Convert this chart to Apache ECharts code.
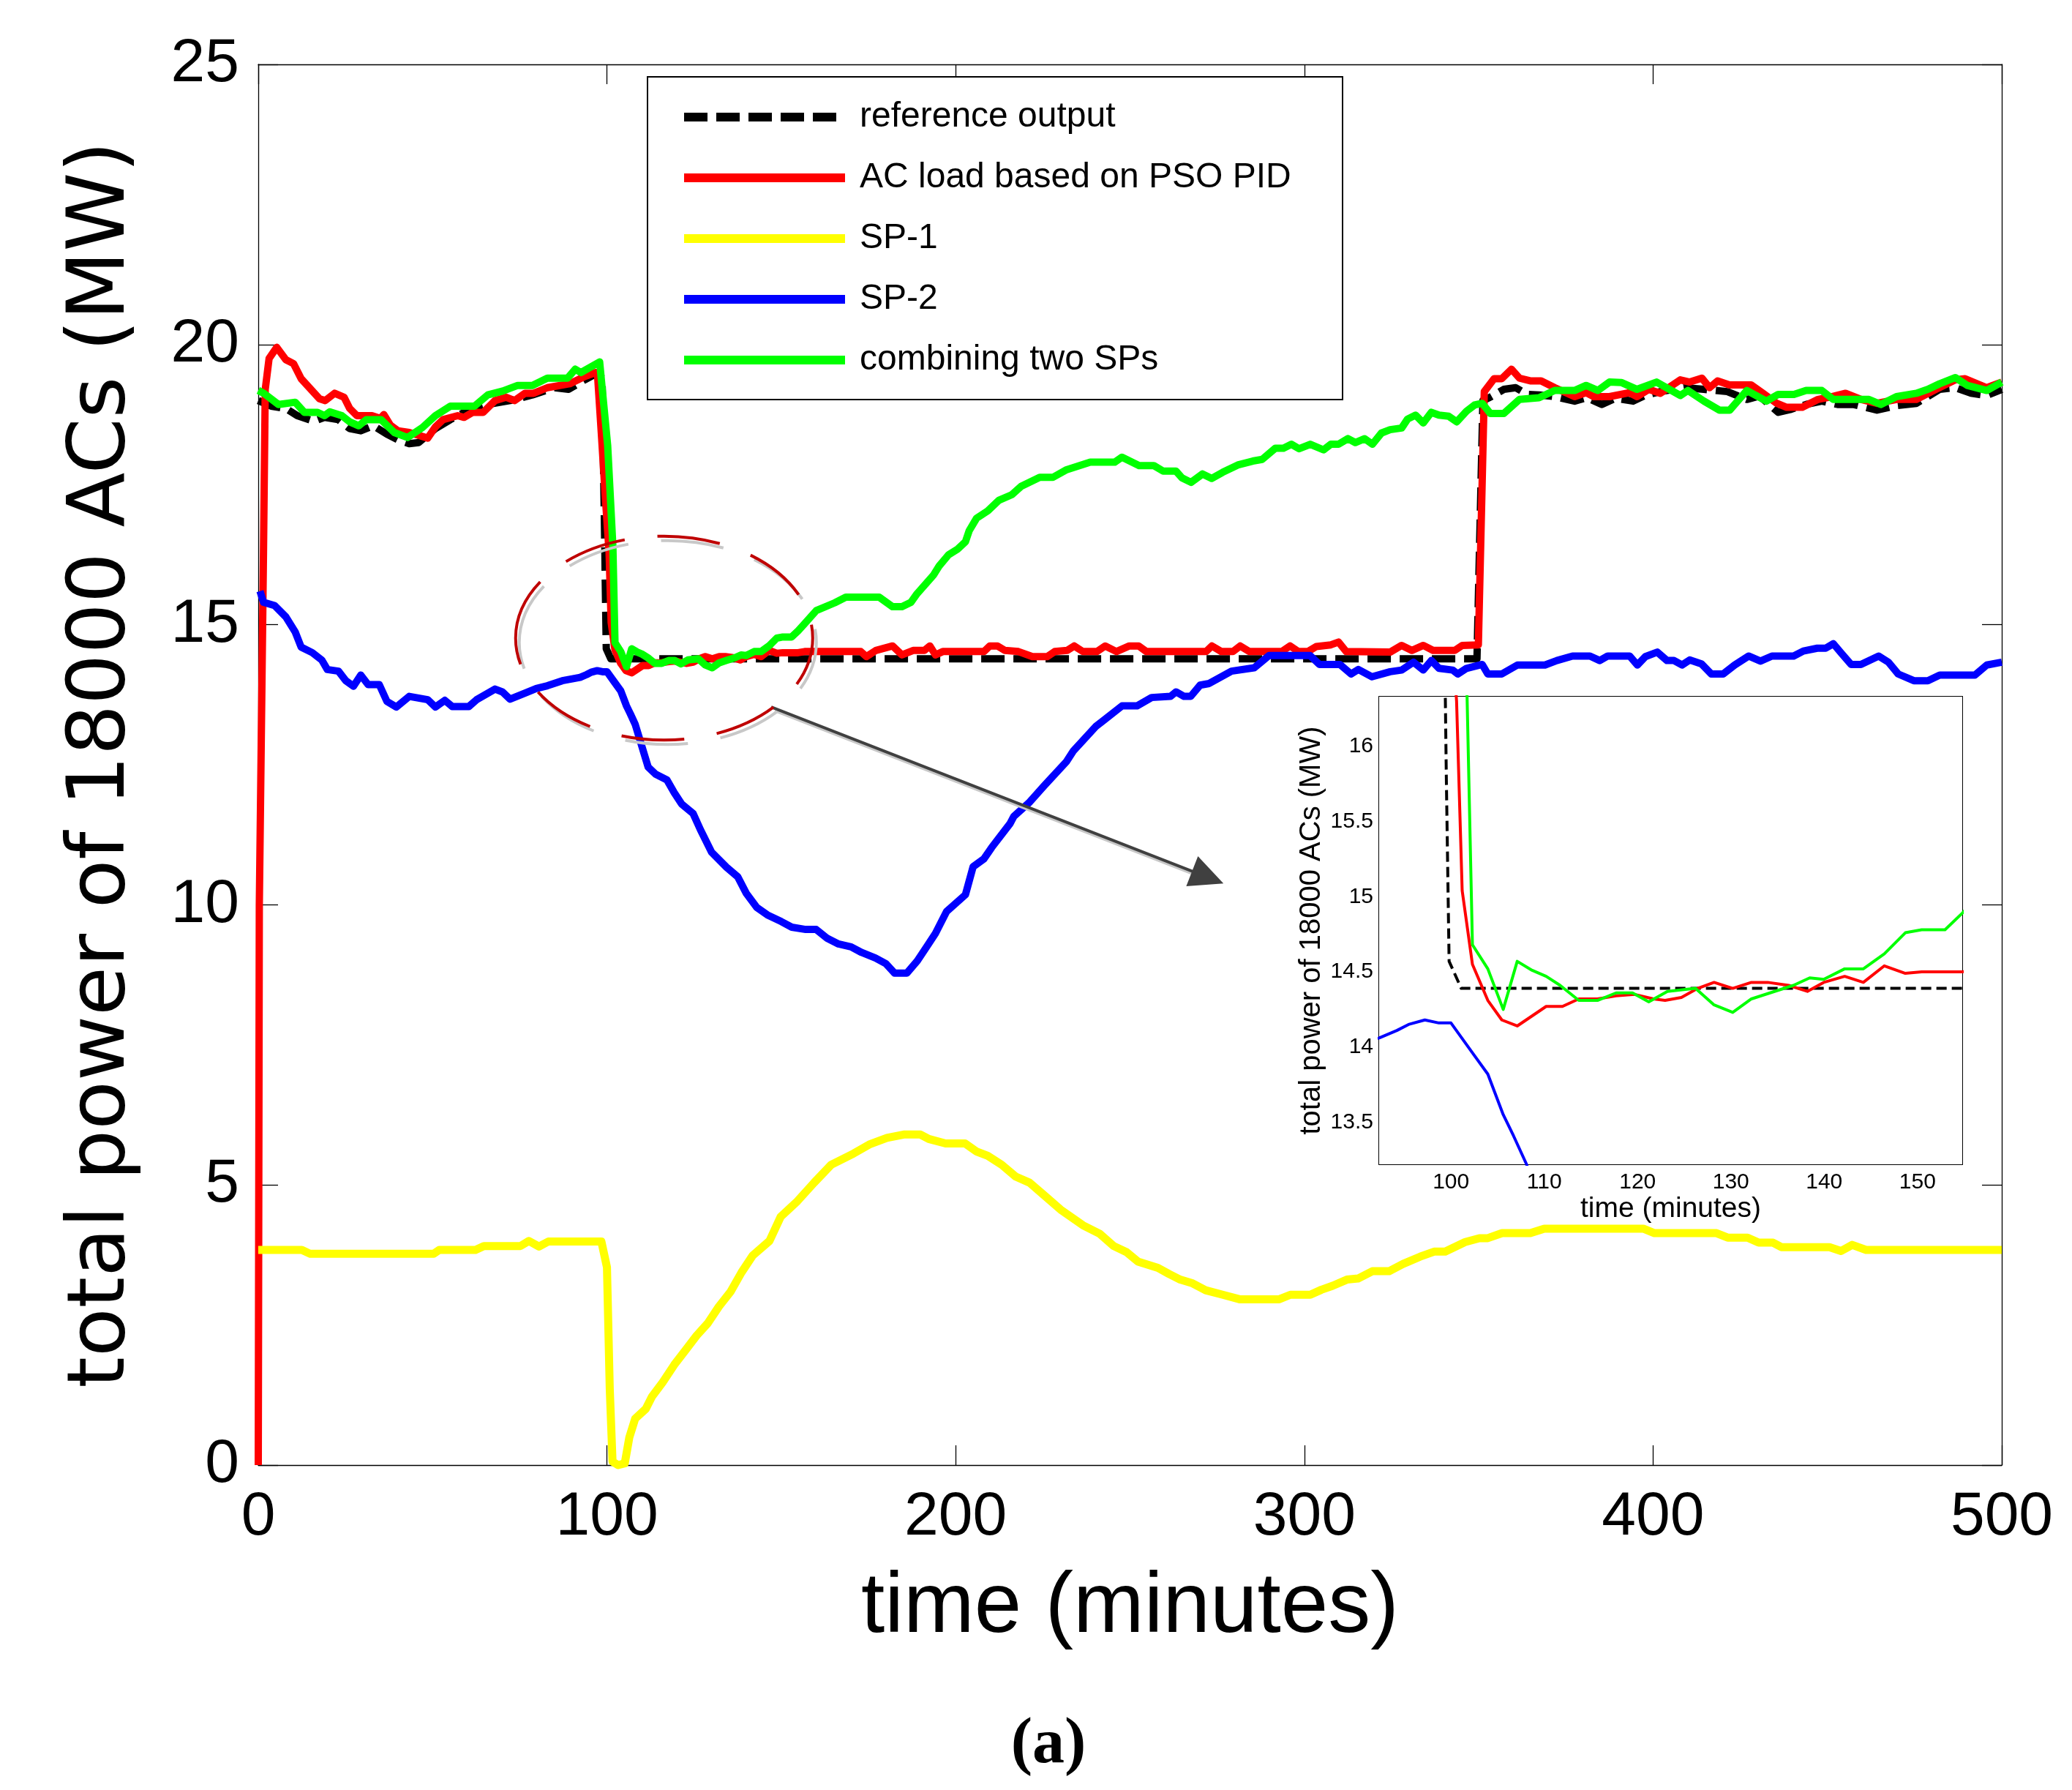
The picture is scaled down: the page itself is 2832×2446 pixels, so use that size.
<!DOCTYPE html>
<html>
<head>
<meta charset="utf-8">
<script src="https://cdn.jsdelivr.net/npm/echarts@6/dist/echarts.min.js"></script>
<style>
html, body { margin: 0; padding: 0; background: #fff; }
#chart { width: 2832px; height: 2446px; }
</style>
</head>
<body>
<div id="chart"></div>
<script>
// [time (min), power (MW)]
const referenceOutput = [
  [0, 19.0], [3.7, 18.9], [7.9, 18.86], [11.2, 18.73], [16, 18.63], [19, 18.7], [22.9, 18.66],
  [26.2, 18.5], [29.4, 18.46], [33, 18.55], [36.9, 18.4], [40.1, 18.3], [43.3, 18.23], [46, 18.25],
  [50.8, 18.5], [55.1, 18.66], [59.4, 18.8], [65.8, 18.93], [72.2, 19.0], [78.6, 19.1], [85, 19.23],
  [89, 19.2], [93.6, 19.37], [97.5, 19.5], [98.6, 19.4], [99.4, 16.3], [99.5, 15.8], [99.8, 14.57],
  [101.1, 14.39], [349.5, 14.39], [351.2, 19.0], [353, 19.05], [357.2, 19.2], [360.6, 19.23],
  [363.9, 19.11], [367.5, 19.1], [371.8, 19.07], [377.5, 18.99], [381, 19.05], [385.3, 18.93],
  [389.2, 19.04], [394.3, 18.99], [397.6, 19.09], [402.1, 19.16], [408.9, 19.23], [414.6, 19.2],
  [421.3, 19.16], [426.9, 19.02], [430.5, 19.08], [435.9, 18.79], [439.3, 18.84], [443.9, 18.93],
  [448.4, 18.99], [452.9, 18.93], [457.4, 18.93], [464.2, 18.83], [469.8, 18.91], [475.5, 18.95],
  [482.2, 19.2], [486.7, 19.23], [491.2, 19.13], [495.7, 19.09], [500, 19.2]
];

const psoPidLoad = [
  [0, 0], [0.3, 10], [1.5, 16.3], [2, 19.2], [3.1, 19.75], [5.3, 19.95], [7.9, 19.73], [10.1, 19.66],
  [12.3, 19.39], [17.6, 19.03], [19.2, 19.0], [21.9, 19.13], [24.6, 19.06], [26.2, 18.86], [28.3, 18.73],
  [32.6, 18.73], [35, 18.68], [36, 18.75], [37.9, 18.56], [40.1, 18.46], [43.3, 18.43], [48.6, 18.33],
  [50.8, 18.53], [53, 18.66], [57.2, 18.73], [59, 18.7], [61.5, 18.79], [64.5, 18.79], [67.9, 19.0],
  [71.1, 19.06], [73.5, 19.0], [76.5, 19.13], [79, 19.13], [82.9, 19.23], [89.3, 19.3], [93.6, 19.43],
  [96.8, 19.5], [97.3, 19.45], [98.5, 18.3], [99.5, 17.3], [100.6, 16.3], [101.2, 15.04], [102.3, 14.55],
  [103.95, 14.31], [105.45, 14.18], [107.1, 14.14], [110.2, 14.27], [111.95, 14.27], [113.7, 14.32],
  [115.7, 14.32], [117.7, 14.34], [119.7, 14.35], [121.7, 14.32], [122.95, 14.31], [124.7, 14.33],
  [126.45, 14.39], [128.2, 14.43], [130.2, 14.39], [132.2, 14.43], [133.95, 14.43], [136.2, 14.41],
  [138.2, 14.37], [139.95, 14.43], [142.2, 14.47], [144.2, 14.43], [146.45, 14.54], [148.7, 14.49],
  [150.45, 14.5], [152.7, 14.5], [154.8, 14.5], [156.7, 14.52], [172.8, 14.52], [174.4, 14.43],
  [177.1, 14.54], [181.9, 14.62], [184.6, 14.46], [187.8, 14.54], [191, 14.54], [192.6, 14.62],
  [194.2, 14.46], [196.3, 14.52], [208.1, 14.52], [209.8, 14.62], [212, 14.62], [214.1, 14.54],
  [218, 14.52], [222, 14.43], [226.3, 14.43], [228.4, 14.52], [232, 14.54], [234, 14.62], [236.5, 14.52],
  [240.5, 14.52], [242.9, 14.62], [246.1, 14.52], [249.8, 14.62], [252.5, 14.62], [254.7, 14.52],
  [271.8, 14.52], [273.5, 14.62], [276.2, 14.52], [279.5, 14.52], [281.6, 14.62], [284.2, 14.52],
  [293.5, 14.52], [295.9, 14.62], [298.3, 14.52], [301, 14.52], [303.4, 14.61], [307.6, 14.64],
  [309.8, 14.69], [312, 14.52], [324.6, 14.51], [327.9, 14.63], [330.8, 14.54], [334.1, 14.63],
  [336.9, 14.54], [343.1, 14.54], [345.3, 14.63], [349.9, 14.64], [351.6, 19.16], [354.4, 19.39],
  [356.6, 19.39], [359.4, 19.56], [361.7, 19.4], [365, 19.35], [367.9, 19.35], [371.8, 19.23],
  [377.5, 19.07], [380.8, 19.14], [383, 19.07], [387.5, 19.07], [393.2, 19.14], [395.4, 19.07],
  [398.8, 19.2], [402.1, 19.13], [407.8, 19.37], [410.5, 19.33], [414, 19.4], [416.2, 19.23],
  [418.5, 19.35], [421.9, 19.28], [428.1, 19.28], [431.5, 19.13], [435.5, 18.95], [438.3, 18.88],
  [442.8, 18.88], [447.3, 19.02], [451.2, 19.07], [455.2, 19.13], [459.7, 19.02], [464.2, 18.95],
  [469.8, 19.02], [475.5, 19.02], [481.1, 19.2], [486.7, 19.37], [489.5, 19.39], [495.7, 19.23],
  [500, 19.33]
];

const sp1 = [
  [0, 3.84], [12.5, 3.84], [14.9, 3.77], [50.3, 3.77], [51.9, 3.84], [62.3, 3.84], [64.7, 3.91],
  [75.2, 3.91], [77.6, 4.0], [80.5, 3.9], [83.2, 3.99], [98.4, 3.99], [100.0, 3.53], [100.8, 1.36],
  [101.6, 0.06], [103.2, 0.0], [105.1, 0.03], [106.4, 0.49], [108.1, 0.83], [111.1, 1.0], [112.9, 1.22],
  [116, 1.48], [119.3, 1.79], [122.5, 2.05], [125.7, 2.31], [128.9, 2.53], [132.1, 2.83], [135.4, 3.09],
  [138.6, 3.44], [141.8, 3.74], [146.6, 4.0], [149.8, 4.43], [154.6, 4.71], [159.4, 5.04], [164.3, 5.36],
  [170.7, 5.56], [175.5, 5.73], [180.3, 5.84], [185.1, 5.9], [189.9, 5.9], [192.3, 5.82], [197.1, 5.74],
  [202.7, 5.74], [205.9, 5.6], [209.2, 5.52], [213.2, 5.36], [217.2, 5.15], [221.2, 5.04], [225.3, 4.82],
  [230.1, 4.56], [236.5, 4.28], [241.3, 4.13], [245.3, 3.91], [249, 3.8], [252.3, 3.63], [258, 3.52],
  [261.2, 3.41], [264.4, 3.31], [267.7, 3.25], [271.7, 3.12], [276.6, 3.04], [281.4, 2.96], [292.8, 2.96],
  [296, 3.04], [301.7, 3.04], [304.9, 3.13], [308.1, 3.2], [312.2, 3.31], [315.4, 3.33], [319.5, 3.46],
  [324.3, 3.46], [328.3, 3.59], [333.2, 3.72], [337.2, 3.81], [340.4, 3.81], [346.1, 3.98], [350.2, 4.05],
  [352.6, 4.05], [356.7, 4.14], [364.8, 4.14], [368.8, 4.22], [397.2, 4.22], [400.4, 4.14], [418.2, 4.14],
  [421.4, 4.06], [427.1, 4.06], [430.3, 3.97], [434.4, 3.97], [436.8, 3.89], [450.6, 3.89], [453.9, 3.82],
  [457.1, 3.93], [461.1, 3.84], [500, 3.84]
];

const sp2 = [
  [0.5, 15.6], [1.5, 15.4], [4.7, 15.34], [7.9, 15.14], [10.6, 14.87], [12.3, 14.6], [15.5, 14.5],
  [18.2, 14.37], [19.8, 14.2], [23, 14.17], [25.1, 14.0], [27.3, 13.9], [29.4, 14.1], [31.5, 13.93],
  [34.7, 13.93], [36.9, 13.63], [39.6, 13.53], [43.3, 13.72], [48.6, 13.66], [50.8, 13.53], [53.5, 13.65],
  [55.6, 13.54], [60.4, 13.54], [62.6, 13.66], [67.9, 13.85], [70, 13.8], [72.2, 13.67], [76.5, 13.78],
  [79.7, 13.86], [82.9, 13.91], [87.2, 14.0], [92.3, 14.06], [94.2, 14.11], [95.45, 14.15], [97.2, 14.18],
  [98.7, 14.16], [100, 14.16], [102.2, 13.97], [103.95, 13.82], [105.6, 13.55], [106.7, 13.41],
  [108.1, 13.22], [111.8, 12.46], [114, 12.33], [117.2, 12.23], [119.3, 12.0], [121.4, 11.8],
  [124.7, 11.63], [126.8, 11.34], [130, 10.94], [134.3, 10.67], [137.5, 10.5], [140, 10.2], [143, 9.95],
  [146, 9.82], [150, 9.7], [153, 9.6], [157, 9.56], [160, 9.56], [163.2, 9.4], [166.4, 9.3], [170, 9.25],
  [173, 9.15], [177, 9.05], [180, 8.95], [182.5, 8.78], [186, 8.78], [189, 9.0], [192.1, 9.29],
  [194.2, 9.49], [197.4, 9.88], [202.8, 10.18], [205, 10.68], [208.1, 10.82], [210.3, 11.02],
  [215.6, 11.45], [216.7, 11.58], [221, 11.82], [225.3, 12.12], [231.7, 12.55], [233.8, 12.75],
  [240.3, 13.19], [242.4, 13.29], [247.7, 13.55], [252, 13.55], [256.2, 13.7], [261.6, 13.72],
  [263.2, 13.8], [265.5, 13.72], [267.4, 13.72], [270.1, 13.92], [272.7, 13.95], [279.1, 14.17],
  [285.6, 14.23], [289.9, 14.45], [301.6, 14.45], [304.3, 14.29], [310.2, 14.29], [313.4, 14.12],
  [315.5, 14.2], [319.4, 14.07], [324.6, 14.16], [327.9, 14.19], [331.3, 14.33], [334.1, 14.19],
  [336.4, 14.36], [338.6, 14.22], [342.5, 14.19], [344, 14.12], [346.5, 14.22], [351, 14.29],
  [352.6, 14.12], [356.6, 14.12], [361.1, 14.28], [369, 14.28], [372.4, 14.36], [376.9, 14.44],
  [381.9, 14.44], [384.7, 14.36], [387, 14.44], [393.3, 14.44], [395.5, 14.28], [397.8, 14.43],
  [401.2, 14.51], [404, 14.36], [406, 14.36], [408.3, 14.28], [410.5, 14.37], [413.9, 14.3],
  [416.7, 14.12], [420.1, 14.12], [423.4, 14.28], [427.4, 14.44], [430.8, 14.35], [434.1, 14.44],
  [440.3, 14.44], [443.1, 14.53], [447.1, 14.58], [449.5, 14.58], [451.7, 14.66], [454, 14.49],
  [456.8, 14.29], [459.6, 14.29], [464.7, 14.44], [467.5, 14.33], [470.3, 14.12], [474.8, 14.0],
  [478.8, 14.0], [482.2, 14.1], [492.3, 14.1], [495.7, 14.28], [500, 14.33]
];

const combinedSPs = [
  [0, 19.18], [1.6, 19.13], [5.8, 18.93], [10.6, 18.97], [13.2, 18.79], [17, 18.79], [19, 18.73],
  [20.5, 18.8], [24, 18.73], [26.2, 18.62], [28.8, 18.55], [31, 18.66], [35.2, 18.66], [39, 18.43],
  [42.8, 18.34], [47.1, 18.52], [50.8, 18.73], [55.1, 18.9], [62, 18.9], [65.8, 19.1], [70.1, 19.17],
  [74.4, 19.27], [78.6, 19.27], [82.9, 19.4], [88.7, 19.4], [90.9, 19.56], [92.5, 19.5], [97.9, 19.69],
  [100.2, 18.2], [101.7, 16.4], [102.3, 14.68], [103.95, 14.52], [105.6, 14.25], [107.1, 14.57],
  [108.7, 14.51], [110.2, 14.47], [111.7, 14.41], [113.7, 14.31], [115.7, 14.31], [117.7, 14.36],
  [119.45, 14.36], [121.2, 14.3], [123.2, 14.37], [126.2, 14.39], [128.2, 14.28], [130.2, 14.23],
  [132.2, 14.32], [134.2, 14.36], [136.7, 14.41], [138.45, 14.46], [139.95, 14.45], [142.2, 14.52],
  [144.2, 14.52], [146.45, 14.62], [148.7, 14.76], [150.45, 14.78], [152.95, 14.78], [154.8, 14.89],
  [156.7, 15.02], [160, 15.25], [165.3, 15.39], [168.5, 15.49], [178.1, 15.49], [181.9, 15.32],
  [184.6, 15.32], [187.2, 15.4], [188.9, 15.55], [193.7, 15.89], [195.3, 16.05], [198, 16.25],
  [200.6, 16.35], [202.8, 16.48], [203.9, 16.68], [206, 16.9], [209.2, 17.03], [212.4, 17.22],
  [216.1, 17.32], [218.8, 17.47], [224.1, 17.63], [227.9, 17.63], [231.6, 17.76], [238.6, 17.9],
  [245.6, 17.9], [247.7, 17.99], [252.6, 17.84], [256.8, 17.84], [259.5, 17.74], [263.2, 17.74],
  [264.9, 17.62], [267.5, 17.54], [270.8, 17.69], [273.4, 17.61], [276.6, 17.72], [280.9, 17.85],
  [285.2, 17.92], [287.9, 17.95], [291.7, 18.15], [294, 18.15], [296.3, 18.22], [298.5, 18.14],
  [301.7, 18.22], [305.5, 18.12], [307.6, 18.22], [309.8, 18.22], [312.5, 18.32], [314.6, 18.25],
  [317.3, 18.32], [319.5, 18.22], [322.1, 18.42], [324.6, 18.48], [327.9, 18.51], [329.6, 18.67],
  [331.9, 18.74], [334.1, 18.6], [336.4, 18.79], [338.6, 18.74], [341.4, 18.72], [343.7, 18.62],
  [346.5, 18.81], [348.8, 18.92], [351, 18.95], [353.3, 18.77], [357.2, 18.77], [361.7, 19.02],
  [367.3, 19.05], [371.8, 19.18], [377.5, 19.18], [380.8, 19.27], [384.2, 19.18], [387.5, 19.33],
  [391, 19.32], [395.4, 19.2], [401, 19.33], [407.8, 19.09], [410, 19.18], [414.6, 18.99], [419, 18.83],
  [422, 18.83], [426.9, 19.18], [432.5, 18.99], [435.9, 19.11], [440.4, 19.11], [443.9, 19.18],
  [448.4, 19.18], [451.7, 19.02], [461.9, 19.02], [465.3, 18.93], [469.8, 19.07], [475.5, 19.13],
  [478.8, 19.2], [482.2, 19.3], [486.7, 19.41], [490.1, 19.27], [495.7, 19.18], [500, 19.33]
];

const seriesNames = ['reference output', 'AC load based on PSO PID', 'SP-1', 'SP-2', 'combining two SPs'];

// main axis ticks
const mainXTicks = [0, 100, 200, 300, 400, 500];
const mainYTicks = [0, 5, 10, 15, 20, 25];
// inset (zoomed) axes
const insetXRange = [92.3, 154.8];
const insetYRange = [13.22, 16.33];
const insetXTicks = [100, 110, 120, 130, 140, 150];
const insetYTicks = [13.5, 14, 14.5, 15, 15.5, 16];

// annotation: ellipse [centre t, centre MW, half-width t, half-height MW] and arrow ends
const zoomEllipse = [116.4, 14.76, 42.6, 1.82];
const arrowFrom = [147.1, 13.53];
const arrowTo = [272.3, 10.49];

const chart = echarts.init(document.getElementById('chart'));

const black = '#000';
const tickStyle = { color: black, width: 1.3 };

function mainX(pos, withLabels) {
  return {
    gridIndex: 0, type: 'value', position: pos,
    min: mainXTicks[0], max: mainXTicks[mainXTicks.length - 1], interval: 100,
    axisLine: { show: true, onZero: false, lineStyle: { color: black, width: 1.3 } },
    axisTick: { show: true, inside: true, length: 27, lineStyle: tickStyle },
    axisLabel: {
      show: withLabels, fontSize: 84, fontFamily: 'Liberation Sans', color: black, margin: 30
    },
    splitLine: { show: false }
  };
}

function mainY(pos, withLabels) {
  return {
    gridIndex: 0, type: 'value', position: pos,
    min: mainYTicks[0], max: mainYTicks[mainYTicks.length - 1], interval: 5,
    axisLine: { show: true, onZero: false, lineStyle: { color: black, width: 1.3 } },
    axisTick: { show: true, inside: true, length: 27, lineStyle: tickStyle },
    axisLabel: {
      show: withLabels, fontSize: 84, fontFamily: 'Liberation Sans', color: black, margin: 26
    },
    splitLine: { show: false }
  };
}

function insetX(pos, withLabels) {
  return {
    gridIndex: 1, type: 'value', position: pos,
    min: insetXRange[0], max: insetXRange[1],
    axisLine: { show: true, onZero: false, lineStyle: { color: black, width: 2 } },
    axisTick: { show: true, inside: true, length: 10, customValues: insetXTicks, lineStyle: { color: black, width: 1.5 } },
    axisLabel: {
      show: withLabels, customValues: insetXTicks,
      fontSize: 30, fontFamily: 'Liberation Sans', color: black, margin: 10
    },
    splitLine: { show: false }
  };
}

function insetY(pos, withLabels) {
  return {
    gridIndex: 1, type: 'value', position: pos,
    min: insetYRange[0], max: insetYRange[1],
    axisLine: { show: true, onZero: false, lineStyle: { color: black, width: 2 } },
    axisTick: { show: true, inside: true, length: 10, customValues: insetYTicks, lineStyle: { color: black, width: 1.5 } },
    axisLabel: {
      show: withLabels, customValues: insetYTicks,
      fontSize: 30, fontFamily: 'Liberation Sans', color: black, margin: 8
    },
    splitLine: { show: false }
  };
}

const xMain = mainX('bottom', true);
xMain.name = 'time (minutes)';
xMain.nameLocation = 'middle';
xMain.nameGap = 138;
xMain.nameTextStyle = { fontSize: 116, fontFamily: 'Liberation Sans', color: black };

const yMain = mainY('left', true);
yMain.name = 'total power of 18000 ACs (MW)';
yMain.nameLocation = 'middle';
yMain.nameGap = 158;
yMain.nameTextStyle = { fontSize: 109, fontFamily: 'DejaVu Sans', color: black };

const xInset = insetX('bottom', true);
xInset.name = 'time (minutes)';
xInset.nameLocation = 'middle';
xInset.nameGap = 42;
xInset.nameTextStyle = { fontSize: 39, fontFamily: 'Liberation Sans', color: black };

const yInset = insetY('left', true);
yInset.name = 'total power of 18000 ACs (MW)';
yInset.nameLocation = 'middle';
yInset.nameGap = 72;
yInset.nameTextStyle = { fontSize: 40, fontFamily: 'Liberation Sans', color: black };

const styles = [
  { color: '#000000', width: 10, dash: [32, 12], insetDash: [14, 7] },
  { color: '#ff0000', width: 10, dash: 'solid', insetDash: 'solid' },
  { color: '#ffff00', width: 11, dash: 'solid', insetDash: 'solid' },
  { color: '#0000ff', width: 10, dash: 'solid', insetDash: 'solid' },
  { color: '#00ff00', width: 10, dash: 'solid', insetDash: 'solid' }
];
const seriesData = [referenceOutput, psoPidLoad, sp1, sp2, combinedSPs];

const series = [];
seriesData.forEach(function (d, i) {
  series.push({
    type: 'line', name: seriesNames[i], data: d,
    xAxisIndex: 0, yAxisIndex: 0,
    symbol: 'none', showSymbol: false, clip: false, z: 2 + i * 0.1,
    color: styles[i].color,
    lineStyle: { color: styles[i].color, width: styles[i].width, type: styles[i].dash, join: 'round' },
    emphasis: { disabled: true }
  });
});
seriesData.forEach(function (d, i) {
  series.push({
    type: 'line', name: seriesNames[i], data: d,
    xAxisIndex: 2, yAxisIndex: 2,
    symbol: 'none', showSymbol: false, clip: true, z: 3 + i * 0.1,
    color: styles[i].color,
    lineStyle: { color: styles[i].color, width: 4, type: styles[i].insetDash, join: 'round' },
    emphasis: { disabled: true }
  });
});

// arrow from the circled region to the inset
series[0].markLine = {
  silent: true, animation: false,
  symbol: ['none', 'triangle'], symbolSize: [44, 46],
  label: { show: false },
  lineStyle: {
    color: '#404040', width: 4, type: 'solid',
    shadowColor: '#c8c8c8', shadowOffsetX: 5, shadowOffsetY: 5, shadowBlur: 0
  },
  data: [[{ coord: arrowFrom }, { coord: arrowTo }]]
};

// dashed ellipse marking the zoomed region
series.push({
  type: 'custom', name: 'zoomed region', xAxisIndex: 0, yAxisIndex: 0,
  silent: true, z: 6, data: [zoomEllipse],
  renderItem: function (params, api) {
    const c = api.coord([api.value(0), api.value(1)]);
    const s = api.size([api.value(2), api.value(3)]);
    const dash = [86, 45];
    return {
      type: 'group',
      children: [
        { type: 'ellipse', shape: { cx: c[0] + 5, cy: c[1] + 6, rx: s[0], ry: s[1] },
          style: { fill: 'none', stroke: '#c8c8c8', lineWidth: 4, lineDash: dash } },
        { type: 'ellipse', shape: { cx: c[0], cy: c[1], rx: s[0], ry: s[1] },
          style: { fill: 'none', stroke: '#bf0000', lineWidth: 4, lineDash: dash } }
      ]
    };
  }
});

chart.setOption({
  backgroundColor: '#fff',
  animation: false,
  grid: [
    { left: 353, top: 88, width: 2383, height: 1914, show: false },
    { left: 1885, top: 952, width: 797, height: 639, show: true, backgroundColor: '#fff', borderWidth: 0, z: 3 }
  ],
  xAxis: [xMain, mainX('top', false), xInset, insetX('top', false)],
  yAxis: [yMain, mainY('right', false), yInset, insetY('right', false)],
  legend: {
    data: seriesNames, orient: 'vertical', left: 929, top: 136, padding: 0,
    itemWidth: 220, itemHeight: 12, itemGap: 35, selectedMode: false,
    textStyle: { fontSize: 48, fontFamily: 'Liberation Sans', color: black, padding: [0, 0, 0, 15] },
    lineStyle: { width: 12 },
    itemStyle: { opacity: 0 }
  },
  graphic: [
    { type: 'rect', z: 1, silent: true,
      shape: { x: 885, y: 105, width: 950, height: 441 },
      style: { fill: '#fff', stroke: black, lineWidth: 2 } },
    { type: 'text', silent: true, x: 1433, y: 2385,
      style: { text: '(a)', font: 'bold 88px "Liberation Serif"', fill: black, align: 'center', verticalAlign: 'middle' } }
  ],
  series: series
});
</script>
</body>
</html>
